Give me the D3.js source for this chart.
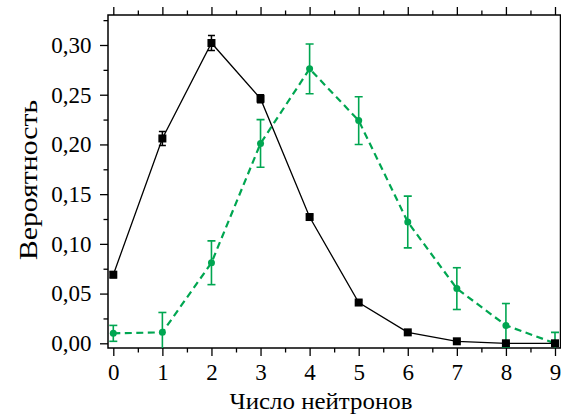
<!DOCTYPE html>
<html>
<head>
<meta charset="utf-8">
<script src="https://cdn.jsdelivr.net/npm/d3@7"></script>
<style>
  html, body { margin: 0; padding: 0; background: #fff; }
  svg { display: block; }
</style>
</head>
<body>
<svg id="chart" width="561" height="417"></svg>
<script>
// Neutron multiplicity distributions
const neutrons = [0, 1, 2, 3, 4, 5, 6, 7, 8, 9];

// black series (squares, solid line)
const probA = [0.069, 0.206, 0.302, 0.246, 0.127, 0.041, 0.011, 0.002, 0.000, 0.000];
const errA  = [0.003, 0.007, 0.0075, 0.004, 0.002, 0.002, 0.001, 0.001, 0.001, 0.001];

// green series (circles, dashed line)
const probB = [0.010, 0.011, 0.081, 0.201, 0.276, 0.224, 0.122, 0.055, 0.018, 0.000];
const errB  = [0.008, 0.020, 0.022, 0.024, 0.025, 0.024, 0.026, 0.021, 0.022, 0.011];

const yTickValues = [0, 0.05, 0.10, 0.15, 0.20, 0.25, 0.30];
const yMinorValues = [0.025, 0.075, 0.125, 0.175, 0.225, 0.275, 0.325];
const xMinorValues = [0.5, 1.5, 2.5, 3.5, 4.5, 5.5, 6.5, 7.5, 8.5];

const xLabel = "Число нейтронов";
const yLabel = "Вероятность";

const green = "#00a651";
const serif = "'Liberation Serif', 'DejaVu Serif', serif";

// frame of the plotting area
const frame = { left: 108, right: 560.5, top: 15, bottom: 348 };

const x = d3.scaleLinear().domain([0, 9]).range([113.3, 555]);
const y = d3.scaleLinear().domain([0, 0.30]).range([343.3, 45]);

const svg = d3.select("#chart");

svg.append("defs").append("clipPath").attr("id", "plotClip")
  .append("rect")
  .attr("x", frame.left).attr("y", frame.top)
  .attr("width", frame.right - frame.left)
  .attr("height", frame.bottom - frame.top);

const fmt = v => d3.format(".2f")(v).replace(".", ",");

// left axis
const gLeft = svg.append("g").attr("transform", `translate(${frame.left},0)`);
gLeft.call(d3.axisLeft(y).tickValues(yTickValues).tickFormat(fmt).tickSize(8).tickPadding(8.5));
gLeft.append("g").call(d3.axisLeft(y).tickValues(yMinorValues).tickFormat("").tickSize(4.5));

// bottom axis
const gBottom = svg.append("g").attr("transform", `translate(0,${frame.bottom})`);
gBottom.call(d3.axisBottom(x).tickValues(neutrons).tickFormat(d3.format("d")).tickSize(8).tickPadding(7.5));
gBottom.append("g").call(d3.axisBottom(x).tickValues(xMinorValues).tickFormat("").tickSize(4.5));

// top axis (ticks only)
const gTop = svg.append("g").attr("transform", `translate(0,${frame.top})`);
gTop.call(d3.axisTop(x).tickValues(neutrons).tickFormat("").tickSize(8));
gTop.append("g").call(d3.axisTop(x).tickValues(xMinorValues).tickFormat("").tickSize(4.5));

svg.selectAll(".domain").remove();
svg.selectAll(".tick line").attr("stroke", "#000").attr("stroke-width", 1.3);
svg.selectAll(".tick text")
  .style("font-family", serif)
  .style("font-size", "23px")
  .attr("fill", "#000");

// frame box
svg.append("rect")
  .attr("x", frame.left).attr("y", frame.top)
  .attr("width", frame.right - frame.left)
  .attr("height", frame.bottom - frame.top)
  .attr("fill", "none").attr("stroke", "#000").attr("stroke-width", 1.5);

const plot = svg.append("g").attr("clip-path", "url(#plotClip)");

function drawSeries(vals, errs, color, opts) {
  const data = neutrons.map((n, i) => ({ n, v: vals[i], e: errs[i] }));
  const g = plot.append("g");
  g.append("path")
    .datum(data)
    .attr("fill", "none")
    .attr("stroke", color)
    .attr("stroke-width", opts.lineWidth)
    .attr("stroke-dasharray", opts.dash || null)
    .attr("d", d3.line().x(d => x(d.n)).y(d => y(d.v)));

  const eb = g.selectAll(".err").data(data).enter().append("g")
    .attr("stroke", color).attr("stroke-width", opts.errWidth);
  eb.append("line")
    .attr("x1", d => x(d.n)).attr("x2", d => x(d.n))
    .attr("y1", d => y(d.v - d.e)).attr("y2", d => y(d.v + d.e));
  [1, -1].forEach(s => {
    eb.append("line")
      .attr("x1", d => x(d.n) - opts.cap).attr("x2", d => x(d.n) + opts.cap)
      .attr("y1", d => y(d.v + s * d.e)).attr("y2", d => y(d.v + s * d.e));
  });

  if (opts.marker === "square") {
    g.selectAll(".mk").data(data).enter().append("rect")
      .attr("x", d => x(d.n) - opts.size / 2).attr("y", d => y(d.v) - opts.size / 2)
      .attr("width", opts.size).attr("height", opts.size)
      .attr("fill", color);
  } else {
    g.selectAll(".mk").data(data).enter().append("circle")
      .attr("cx", d => x(d.n)).attr("cy", d => y(d.v))
      .attr("r", opts.size / 2)
      .attr("fill", color);
  }
}

drawSeries(probB, errB, green, { lineWidth: 2.2, dash: "7,4.5", errWidth: 1.6, cap: 4, marker: "circle", size: 7 });
drawSeries(probA, errA, "#000", { lineWidth: 1.3, errWidth: 1.5, cap: 3.5, marker: "square", size: 8 });

// axis titles
svg.append("text")
  .attr("x", 321).attr("y", 409)
  .attr("text-anchor", "middle")
  .style("font-family", serif).style("font-size", "24px")
  .attr("textLength", 183).attr("lengthAdjust", "spacingAndGlyphs")
  .text(xLabel);

svg.append("text")
  .attr("transform", "translate(37,180) rotate(-90)")
  .attr("text-anchor", "middle")
  .style("font-family", serif).style("font-size", "26px")
  .attr("textLength", 160).attr("lengthAdjust", "spacingAndGlyphs")
  .text(yLabel);
</script>
</body>
</html>
